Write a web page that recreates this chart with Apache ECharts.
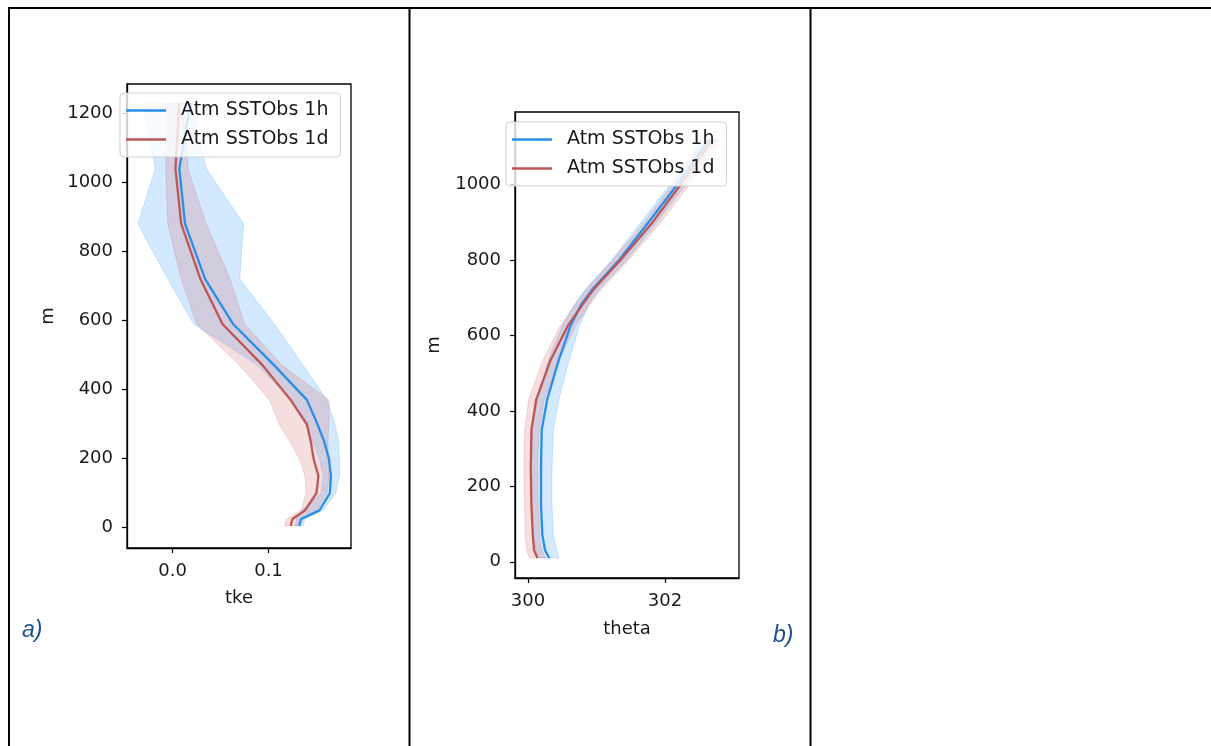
<!DOCTYPE html>
<html>
<head>
<meta charset="utf-8">
<script src="https://cdn.jsdelivr.net/npm/echarts@6/dist/echarts.min.js"></script>
<style>
html,body{margin:0;padding:0;background:#fff;}
#main{width:1211px;height:746px;}
</style>
</head>
<body>
<div id="main"></div>
<script>
// ---- Panel a) : tke profiles ----
var heightsA = [5, 25, 50, 100, 150, 200, 250, 300, 370, 470, 590, 720, 880, 1040, 1230];
var tke1h    = [0.132, 0.134, 0.153, 0.164, 0.165, 0.163, 0.158, 0.151, 0.140, 0.106, 0.063, 0.034, 0.013, 0.007, 0.019];
var tke1hLo  = [0.128, 0.129, 0.135, 0.155, 0.157, 0.153, 0.146, 0.138, 0.123, 0.089, 0.022, -0.005, -0.036, -0.018, -0.031];
var tke1hHi  = [0.136, 0.138, 0.157, 0.170, 0.174, 0.174, 0.173, 0.169, 0.161, 0.136, 0.106, 0.070, 0.074, 0.035, 0.021];
var tke1d    = [0.123, 0.125, 0.138, 0.150, 0.152, 0.147, 0.144, 0.140, 0.123, 0.094, 0.052, 0.029, 0.009, 0.003, 0.007];
var tke1dLo  = [0.117, 0.119, 0.134, 0.139, 0.138, 0.132, 0.122, 0.111, 0.101, 0.070, 0.025, 0.009, -0.005, -0.007, -0.007];
var tke1dHi  = [0.130, 0.133, 0.150, 0.161, 0.163, 0.162, 0.162, 0.163, 0.163, 0.114, 0.075, 0.060, 0.035, 0.016, 0.013];
var ticksAx  = [0, 0.1];
var ticksAy  = [0, 200, 400, 600, 800, 1000, 1200];

// ---- Panel b) : theta profiles ----
var heightsB = [10, 30, 70, 150, 250, 350, 430, 535, 625, 680, 720, 800, 900, 1000, 1120];
var th1h     = [300.31, 300.25, 300.21, 300.19, 300.19, 300.20, 300.28, 300.45, 300.62, 300.77, 300.93, 301.33, 301.76, 302.18, 302.65];
var th1hLo   = [300.17, 300.12, 300.07, 300.05, 300.05, 300.06, 300.13, 300.30, 300.50, 300.67, 300.83, 301.22, 301.65, 302.07, 302.55];
var th1hHi   = [300.45, 300.42, 300.37, 300.35, 300.35, 300.37, 300.45, 300.60, 300.75, 300.88, 301.03, 301.44, 301.88, 302.30, 302.78];
var th1d     = [300.14, 300.09, 300.07, 300.05, 300.04, 300.05, 300.12, 300.33, 300.58, 300.79, 300.95, 301.35, 301.82, 302.23, 302.70];
var th1dLo   = [300.02, 299.98, 299.96, 299.95, 299.94, 299.95, 300.01, 300.22, 300.47, 300.68, 300.84, 301.24, 301.70, 302.11, 302.58];
var th1dHi   = [300.26, 300.20, 300.17, 300.15, 300.14, 300.16, 300.24, 300.45, 300.69, 300.90, 301.06, 301.47, 301.94, 302.36, 302.83];
var ticksBx  = [300, 302];
var ticksBy  = [0, 200, 400, 600, 800, 1000];

var names = ['Atm SSTObs 1h', 'Atm SSTObs 1d'];
var BLUE = '#2a8ee8', RED = '#bf5555';
var BLUE_FILL = 'rgba(30,144,255,0.2)', RED_FILL = 'rgba(205,92,92,0.2)';
var TXT = '#1a1a1a';
var FONT = 'DejaVu Sans';
var FS = 18;
var FS_LEG = 19;

function pairs(xs, ys) { return ys.map(function (y, i) { return [xs[i], y]; }); }

function band(name, hs, lo, hi, fill, idx) {
  return {
    type: 'custom', name: name, xAxisIndex: idx, yAxisIndex: idx, silent: true, z: 1,
    data: hs.map(function (h, i) { return [lo[i], hi[i], h]; }),
    encode: { x: [0, 1], y: 2 },
    renderItem: function (params, api) {
      if (params.dataIndex !== 0) return null;
      var pts = [];
      for (var i = 0; i < hs.length; i++) pts.push(api.coord([lo[i], hs[i]]));
      for (var j = hs.length - 1; j >= 0; j--) pts.push(api.coord([hi[j], hs[j]]));
      return { type: 'polygon', shape: { points: pts }, style: { fill: fill, stroke: fill, lineWidth: 1 } };
    }
  };
}
function line(name, xs, hs, color, idx) {
  return {
    type: 'line', name: name, xAxisIndex: idx, yAxisIndex: idx, z: 3,
    data: pairs(xs, hs), symbol: 'none', showSymbol: false,
    lineStyle: { color: color, width: 2.3 }, itemStyle: { color: color }, animation: false
  };
}
function xAxis(idx, min, max, ticks, name, gap, fmt) {
  return {
    type: 'value', gridIndex: idx, min: min, max: max, name: name,
    nameLocation: 'middle', nameGap: gap,
    nameTextStyle: { color: TXT, fontFamily: FONT, fontSize: FS },
    splitLine: { show: false },
    axisLine: { show: true, onZero: false, lineStyle: { color: '#000', width: 1.3 } },
    axisTick: { show: true, inside: false, length: 5, customValues: ticks, lineStyle: { color: '#000', width: 1.2 } },
    axisLabel: { show: true, margin: 14, customValues: ticks, color: TXT, fontFamily: FONT, fontSize: FS, formatter: fmt }
  };
}
function yAxis(idx, min, max, ticks, gap) {
  return {
    type: 'value', gridIndex: idx, min: min, max: max, name: 'm',
    nameLocation: 'middle', nameGap: gap, nameRotate: 90,
    nameTextStyle: { color: TXT, fontFamily: FONT, fontSize: FS },
    splitLine: { show: false },
    axisLine: { show: true, onZero: false, lineStyle: { color: '#000', width: 1.3 } },
    axisTick: { show: true, inside: false, length: 5, customValues: ticks, lineStyle: { color: '#000', width: 1.2 } },
    axisLabel: { show: true, margin: 14, customValues: ticks, color: TXT, fontFamily: FONT, fontSize: FS,
      formatter: function (v) { return String(v); } }
  };
}
function legend(left, top) {
  return {
    data: names, orient: 'vertical', left: left, top: top,
    icon: 'rect', itemWidth: 40, itemHeight: 2.5, itemGap: 10,
    padding: [8, 12, 8, 6],
    backgroundColor: 'rgba(255,255,255,0.8)', borderColor: '#d0d0d0', borderWidth: 1, borderRadius: 4,
    textStyle: { color: TXT, fontFamily: FONT, fontSize: FS_LEG, lineHeight: 19, padding: [0, 0, 0, 10] },
    selectedMode: false
  };
}

var chart = echarts.init(document.getElementById('main'), null, { renderer: 'canvas' });
chart.setOption({
  animation: false,
  backgroundColor: '#fff',
  grid: [
    { left: 127, top: 84, width: 224, height: 464, show: true, borderColor: '#000', borderWidth: 1.3, containLabel: false },
    { left: 515, top: 112, width: 224, height: 466, show: true, borderColor: '#000', borderWidth: 1.3, containLabel: false }
  ],
  xAxis: [
    xAxis(0, -0.0475, 0.186, ticksAx, 'tke', 41, function (v) { return v.toFixed(1); }),
    xAxis(1, 299.81, 303.08, ticksBx, 'theta', 42, function (v) { return String(v); })
  ],
  yAxis: [
    yAxis(0, -59, 1285, ticksAy, 70),
    yAxis(1, -43, 1192, ticksBy, 72)
  ],
  legend: [legend(120, 93), legend(506, 122)],
  series: [
    band('band a 1h', heightsA, tke1hLo, tke1hHi, BLUE_FILL, 0),
    band('band a 1d', heightsA, tke1dLo, tke1dHi, RED_FILL, 0),
    line(names[0], tke1h, heightsA, BLUE, 0),
    line(names[1], tke1d, heightsA, RED, 0),
    band('band b 1h', heightsB, th1hLo, th1hHi, BLUE_FILL, 1),
    band('band b 1d', heightsB, th1dLo, th1dHi, RED_FILL, 1),
    line(names[0], th1h, heightsB, BLUE, 1),
    line(names[1], th1d, heightsB, RED, 1)
  ],
  graphic: [
    { type: 'line', shape: { x1: 8, y1: 8, x2: 1211, y2: 8 }, style: { stroke: '#000', lineWidth: 2 }, z: 100 },
    { type: 'line', shape: { x1: 9, y1: 7, x2: 9, y2: 746 }, style: { stroke: '#000', lineWidth: 2 }, z: 100 },
    { type: 'line', shape: { x1: 409.5, y1: 7, x2: 409.5, y2: 746 }, style: { stroke: '#000', lineWidth: 2 }, z: 100 },
    { type: 'line', shape: { x1: 810.5, y1: 7, x2: 810.5, y2: 746 }, style: { stroke: '#000', lineWidth: 2 }, z: 100 },
    { type: 'text', left: 22, top: 619, style: { text: 'a)', fill: '#1c4f91', font: 'italic 23px "Liberation Sans", Arial, sans-serif' } },
    { type: 'text', left: 773, top: 624, style: { text: 'b)', fill: '#1c4f91', font: 'italic 23px "Liberation Sans", Arial, sans-serif' } }
  ]
});
</script>
</body>
</html>
